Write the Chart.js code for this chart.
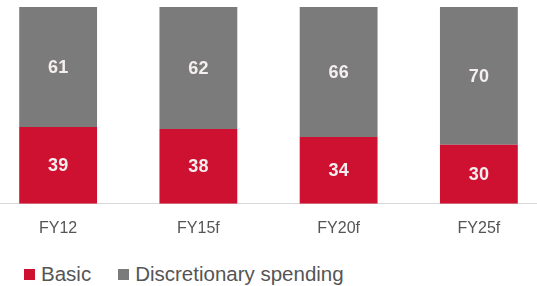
<!DOCTYPE html>
<html>
<head>
<meta charset="utf-8">
<script src="https://cdn.jsdelivr.net/npm/chart.js@4.4.0/dist/chart.umd.min.js"></script>
<style>
  html, body { margin: 0; padding: 0; background: #fff; width: 537px; height: 286px; overflow: hidden; }
  #wrap { position: absolute; left: -12px; top: 0; width: 561px; height: 247px; }
  #legend { position: absolute; left: 24px; top: 262px; display: flex; align-items: center;
            font-family: "Liberation Sans", Arial, sans-serif; font-size: 20.5px; color: #555; }
  .item { display: flex; align-items: center; margin-right: 27px; }
  .box { width: 11px; height: 11px; margin-right: 6px; }
</style>
</head>
<body>
<div id="wrap"><canvas id="c" width="561" height="247"></canvas></div>
<div id="legend"></div>
<script>
const categories = ["FY12", "FY15f", "FY20f", "FY25f"];
const basic = [39, 38, 34, 30];
const discretionary = [61, 62, 66, 70];
const seriesNames = ["Basic", "Discretionary spending"];
const colors = ["#cf1131", "#7b7b7b"];

const labelPlugin = {
  id: "barLabels",
  afterDatasetsDraw(chart) {
    const ctx = chart.ctx;
    ctx.save();
    ctx.font = "bold 18px 'Liberation Sans', Arial, sans-serif";
    ctx.fillStyle = "#f4eeee";
    ctx.textAlign = "center";
    ctx.textBaseline = "middle";
    chart.data.datasets.forEach((ds, i) => {
      const meta = chart.getDatasetMeta(i);
      meta.data.forEach((bar, j) => {
        const y = (bar.y + bar.base) / 2;
        ctx.fillText(String(ds.data[j]), bar.x, y + 1);
      });
    });
    ctx.restore();
  }
};

new Chart(document.getElementById("c"), {
  type: "bar",
  data: {
    labels: categories,
    datasets: [
      { label: seriesNames[0], data: basic, backgroundColor: colors[0] },
      { label: seriesNames[1], data: discretionary, backgroundColor: colors[1] }
    ]
  },
  options: {
    responsive: false,
    devicePixelRatio: 1,
    animation: false,
    layout: { padding: { top: 7, bottom: 2, left: 0, right: 0 } },
    datasets: { bar: { barPercentage: 0.555, categoryPercentage: 1.0 } },
    plugins: { legend: { display: false }, tooltip: { enabled: false } },
    scales: {
      x: {
        stacked: true,
        grid: { display: false },
        border: { display: true, color: "#d8d8d8", width: 1 },
        ticks: { color: "#555", font: { family: "'Liberation Sans', Arial, sans-serif", size: 16 }, padding: 7 }
      },
      y: {
        stacked: true,
        display: false,
        min: 0,
        max: 100
      }
    }
  },
  plugins: [labelPlugin]
});

const legend = document.getElementById("legend");
seriesNames.forEach((n, i) => {
  const it = document.createElement("div");
  it.className = "item";
  const b = document.createElement("span");
  b.className = "box";
  b.style.background = colors[i];
  const t = document.createElement("span");
  t.textContent = n;
  it.appendChild(b); it.appendChild(t);
  legend.appendChild(it);
});
</script>
</body>
</html>
